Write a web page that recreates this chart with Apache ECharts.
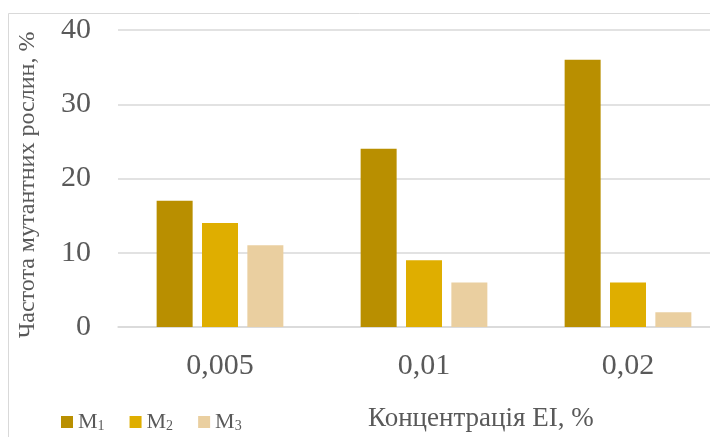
<!DOCTYPE html>
<html>
<head>
<meta charset="utf-8">
<script src="https://cdn.jsdelivr.net/npm/echarts@6/dist/echarts.min.js"></script>
<style>
  html, body { margin: 0; padding: 0; background: #fff; }
  #chart { width: 710px; height: 437px; }
</style>
</head>
<body>
<div id="chart"></div>
<script>
// концентрації EI, %
var categories = ["0,005", "0,01", "0,02"];
var seriesNames = ["M1", "M2", "M3"];
var m1 = [17, 24, 36];
var m2 = [14, 9, 6];
var m3 = [11, 6, 2];
var yTicks = { min: 0, max: 40, interval: 10 };

var colors = ["#b98f00", "#dfae00", "#eacfa0"];
var font = "Liberation Serif";
var grey = "#595959";

var chart = echarts.init(document.getElementById("chart"));

function bar(name, data, color) {
  return {
    name: name,
    type: "bar",
    data: data,
    barWidth: 36,
    barGap: "26%",
    itemStyle: { color: color }
  };
}

chart.setOption({
  animation: false,
  backgroundColor: "#fff",
  textStyle: { fontFamily: font },
  // сітка виходить за правий край картинки, як в оригіналі
  grid: { left: 118, top: 30, width: 612, bottom: 110, outerBoundsMode: "none" },
  graphic: [
    {
      // рамка діаграми
      type: "rect",
      shape: { x: 8.5, y: 13.5, width: 800, height: 500 },
      style: { fill: "none", stroke: "#d9d9d9", lineWidth: 1 },
      silent: true
    },
    {
      // назва осі Y
      type: "text",
      x: 28,
      y: 185,
      rotation: Math.PI / 2,
      style: {
        text: "Частота мутантних рослин, %",
        fontFamily: font,
        fontSize: 24,
        fill: grey,
        align: "center",
        verticalAlign: "middle"
      },
      silent: true
    }
  ],
  title: {
    text: "Концентрація EI, %",
    left: 368,
    top: 405,
    padding: 0,
    textStyle: { fontFamily: font, fontSize: 27, fontWeight: "normal", color: grey }
  },
  legend: {
    left: 61,
    top: 411,
    padding: 0,
    icon: "rect",
    itemWidth: 12,
    itemHeight: 12,
    itemGap: 25,
    formatter: function (name) {
      return "{m|M}{s|" + name.slice(1) + "}";
    },
    textStyle: {
      color: grey,
      fontFamily: font,
      rich: {
        m: { fontSize: 22, fontFamily: font, color: grey },
        s: { fontSize: 14, fontFamily: font, color: grey, verticalAlign: "bottom", padding: [7, 0, 0, 0] }
      }
    },
    data: seriesNames
  },
  xAxis: {
    type: "category",
    data: categories,
    axisLine: { lineStyle: { color: "#d9d9d9", width: 1.5 } },
    axisTick: { show: false },
    axisLabel: { fontFamily: font, fontSize: 30, color: grey, margin: 24 }
  },
  yAxis: {
    type: "value",
    min: yTicks.min,
    max: yTicks.max,
    interval: yTicks.interval,
    axisLine: { show: false },
    axisTick: { show: false },
    axisLabel: { fontFamily: font, fontSize: 30, color: grey, margin: 27 },
    splitLine: { lineStyle: { color: "#d9d9d9", width: 1.5 } }
  },
  series: [
    bar(seriesNames[0], m1, colors[0]),
    bar(seriesNames[1], m2, colors[1]),
    bar(seriesNames[2], m3, colors[2])
  ]
});
</script>
</body>
</html>
